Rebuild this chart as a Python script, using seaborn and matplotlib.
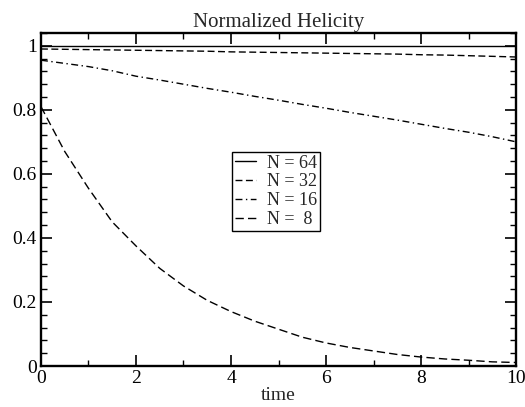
import numpy as np
import pandas as pd
import matplotlib
matplotlib.use("Agg")
import matplotlib.pyplot as plt
import seaborn as sns
from matplotlib.ticker import MultipleLocator, FuncFormatter

time = [0, 0.5, 1, 1.5, 2, 2.5, 3, 3.5, 4, 4.5, 5, 5.5, 6, 6.5, 7, 7.5, 8, 8.5, 9, 9.5, 10]
h64 = [0.998, 0.998, 0.998, 0.998, 0.998, 0.998, 0.998, 0.998, 0.998, 0.998, 0.998,
       0.998, 0.998, 0.998, 0.998, 0.998, 0.998, 0.998, 0.998, 0.998, 0.998]
h32 = [0.990, 0.989, 0.988, 0.987, 0.986, 0.985, 0.984, 0.983, 0.981, 0.980, 0.979,
       0.978, 0.977, 0.976, 0.975, 0.974, 0.972, 0.971, 0.969, 0.967, 0.965]
h16 = [0.955, 0.945, 0.935, 0.922, 0.905, 0.893, 0.880, 0.867, 0.855, 0.842, 0.830,
       0.817, 0.805, 0.792, 0.780, 0.768, 0.755, 0.742, 0.730, 0.716, 0.700]
h8 = [0.810, 0.670, 0.555, 0.450, 0.375, 0.305, 0.250, 0.205, 0.170, 0.140, 0.115,
      0.090, 0.072, 0.058, 0.047, 0.036, 0.028, 0.022, 0.018, 0.013, 0.011]
labels = ["N = 64", "N = 32", "N = 16", "N =  8"]

sns.set_style("ticks")
plt.rcParams["font.family"] = ["Liberation Serif", "DejaVu Serif"]

fig = plt.figure(figsize=(5.25, 4.07), dpi=100)
ax = fig.add_axes([0.078, 0.1007, 0.905, 0.8183])

series = [h64, h32, h16, h8]
dash_styles = [None, (5, 2.5), (5, 2.5, 1, 2.5), (6, 3)]
for vals, lab, ds in zip(series, labels, dash_styles):
    df = pd.DataFrame({"time": time, "h": vals})
    sns.lineplot(data=df, x="time", y="h", ax=ax, color="black", linewidth=1.0, label=lab)
    line = ax.lines[-1]
    if ds is not None:
        line.set_dashes(ds)

ax.set_xlim(0, 10)
ax.set_ylim(0, 1.04)
ax.xaxis.set_major_locator(MultipleLocator(2))
ax.xaxis.set_minor_locator(MultipleLocator(1))
ax.yaxis.set_major_locator(MultipleLocator(0.2))
ax.yaxis.set_minor_locator(MultipleLocator(0.04))
fmt = FuncFormatter(lambda v, p: "%g" % round(v, 3))
ax.xaxis.set_major_formatter(fmt)
ax.yaxis.set_major_formatter(fmt)
ax.tick_params(which="both", direction="in", top=True, right=True, labelsize=14, colors="black")
ax.tick_params(which="major", length=8, width=1.2, pad=3)
ax.tick_params(which="minor", length=4.5, width=1.0)
for s in ax.spines.values():
    s.set_linewidth(1.7)
    s.set_color("black")

ax.set_xlabel("time", fontsize=14, labelpad=0)
ax.set_ylabel("")
ax.set_title("Normalized Helicity", fontsize=15, pad=4)

leg = ax.legend(loc="upper left", bbox_to_anchor=(0.402, 0.643), fontsize=13,
                frameon=True, fancybox=False, shadow=False, framealpha=1,
                handlelength=1.2, handletextpad=0.6, labelspacing=0.1,
                borderpad=0.15, borderaxespad=0)
leg.get_frame().set_edgecolor("black")
leg.get_frame().set_linewidth(1.0)

fig.savefig("out.png", dpi=100)
